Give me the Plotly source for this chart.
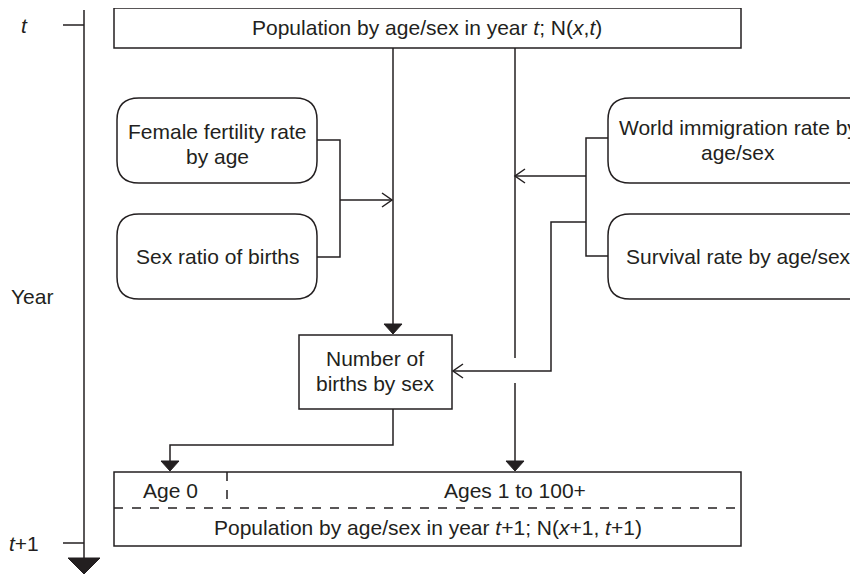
import plotly.graph_objects as go

# text of the diagram
title_top = 'Population by age/sex in year <i>t</i>; N(<i>x</i>,<i>t</i>)'
title_bottom = 'Population by age/sex in year <i>t</i>+1; N(<i>x</i>+1, <i>t</i>+1)'
left_inputs = ['Female fertility rate<br>by age', 'Sex ratio of births']
right_inputs = ['World immigration rate by<br>age/sex', 'Survival rate by age/sex']
births_label = 'Number of<br>births by sex'
bottom_cells = ['Age 0', 'Ages 1 to 100+']
time_labels = ['<i>t</i>', '<i>t</i>+1']
axis_label = 'Year'

INK = '#231f20'
FONT = 'Liberation Sans, Arial, sans-serif'
W, H = 858, 576
PAD = 8   # the page body margin; axes are set so data units = screen pixels
LW = 1.5
FS = 21


def rounded(x0, y0, x1, y1, r):
    return (f'M{x0+r},{y0} H{x1-r} Q{x1},{y0} {x1},{y0+r} V{y1-r} '
            f'Q{x1},{y1} {x1-r},{y1} H{x0+r} Q{x0},{y1} {x0},{y1-r} '
            f'V{y0+r} Q{x0},{y0} {x0+r},{y0} Z')


def line(path, dash='solid'):
    return dict(type='path', xref='x', yref='y', path=path,
                line=dict(color=INK, width=LW, dash=dash))


def filled_down(x, tip, h=10, hw=9):
    return dict(type='path', xref='x', yref='y',
                path=f'M{x-hw},{tip-h} L{x+hw},{tip-h} L{x},{tip} Z',
                fillcolor=INK, line=dict(color=INK, width=1))


def open_head(x, y, dx):
    # dx>0 -> pointing right, dx<0 -> pointing left
    return line(f'M{x-dx},{y-7} L{x},{y} L{x-dx},{y+7}')


shapes = []
# time axis
shapes.append(line('M84,10 V558'))
shapes.append(line('M63,25 H84'))
shapes.append(line('M63,543 H84'))
shapes.append(filled_down(84, 574, h=16, hw=16))

# top and bottom boxes
shapes.append(line('M114,8 H741 V48 H114 Z'))
shapes.append(line('M114,472 H741 V546 H114 Z'))
shapes.append(line('M114,508 H741', dash='dash'))
shapes.append(line('M227,472 V508', dash='dash'))

# rounded input boxes
for y0, y1 in [(98, 183), (214, 299)]:
    shapes.append(line(rounded(117, y0, 317, y1, 22)))
    shapes.append(line(rounded(608, y0, 872, y1, 22)))

# births box
shapes.append(line('M299,335 H452 V409 H299 Z'))

# left connectors
shapes.append(line('M317,140 H340 V257 H317'))
shapes.append(line('M340,200 H392'))
shapes.append(open_head(392, 200, 10))
shapes.append(line('M393,48 V324'))
shapes.append(filled_down(393, 334))

# right connectors
shapes.append(line('M608,138 H586 V256 H608'))
shapes.append(line('M586,176 H515'))
shapes.append(open_head(515, 176, -10))
shapes.append(line('M586,222 H551 V371 H453'))
shapes.append(open_head(453, 371, -10))
shapes.append(line('M515,48 V358'))
shapes.append(line('M515,383 V461'))
shapes.append(filled_down(515, 471))

# births to age 0
shapes.append(line('M393,409 V445 H170 V461'))
shapes.append(filled_down(170, 471))


def label(x, y, text, gap=25):
    rows = text.split('<br>')
    top = y - gap * (len(rows) - 1) / 2
    return [dict(x=x, y=top + i * gap, xref='x', yref='y', text=row,
                 showarrow=False, font=dict(family=FONT, size=FS, color=INK),
                 xanchor='center', yanchor='middle')
            for i, row in enumerate(rows)]


annotations = (
    label(427, 27, title_top)
    + label(428, 527, title_bottom)
    + label(217, 144, left_inputs[0])
    + label(217, 256, left_inputs[1])
    + label(738, 140, right_inputs[0])
    + label(738, 256, right_inputs[1])
    + label(375, 371, births_label)
    + label(170, 490, bottom_cells[0])
    + label(515, 490, bottom_cells[1])
    + label(24, 25, time_labels[0])
    + label(24, 543, time_labels[1])
    + label(32, 296, axis_label)
)

fig = go.Figure()
fig.update_layout(
    width=W - PAD, height=H - PAD,
    margin=dict(l=0, r=0, t=0, b=0),
    paper_bgcolor='white', plot_bgcolor='white',
    xaxis=dict(range=[PAD, W], visible=False, fixedrange=True),
    yaxis=dict(range=[H, PAD], visible=False, fixedrange=True),
    shapes=shapes,
    annotations=annotations,
    showlegend=False,
)

fig.write_html("out.html")
